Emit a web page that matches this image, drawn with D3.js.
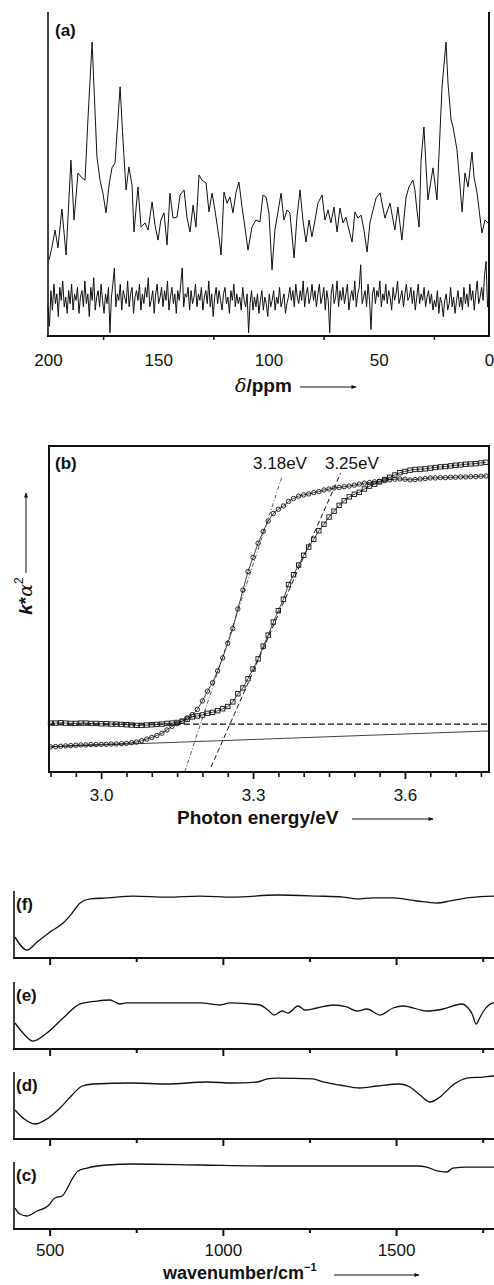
<!DOCTYPE html>
<html>
<head>
<meta charset="utf-8">
<script src="https://cdn.jsdelivr.net/npm/d3@7"></script>
<style>
  body { margin: 0; background: #fff; }
  text { font-family: "Liberation Sans", Arial, sans-serif; fill: #111; }
</style>
</head>
<body>
<svg id="fig" width="494" height="1285"></svg>
<script>
// ---------- (a) 13C NMR ----------
const nmrTicks = [200, 150, 100, 50, 0];
const nmrMinorTicks = [175, 125, 75, 25];
const nmrPpm = [199.5,198.2,196.8,195.5,193.7,191.8,189.6,188.2,186.4,184.6,183.2,181.9,180.0,178.7,177.8,176.4,175.1,173.7,172.3,171.0,
  169.6,168.3,167.3,166.0,164.6,163.3,161.9,161.0,159.2,157.8,156.0,154.6,152.8,151.5,150.1,148.8,147.4,146.0,144.7,143.3,
  141.5,140.1,138.3,137.0,135.6,134.2,132.9,131.5,130.2,128.3,127.0,125.6,124.3,122.4,121.5,120.2,118.8,117.5,116.1,114.7,
  113.4,112.0,110.7,109.3,107.5,105.7,103.9,102.5,101.1,99.8,98.4,97.1,95.7,94.3,93.0,91.6,90.3,88.4,87.1,85.7,
  84.4,83.0,81.6,80.3,78.9,77.6,75.7,74.4,73.0,71.7,70.3,68.9,67.6,66.2,64.9,63.5,62.1,60.8,59.4,58.0,
  56.7,55.3,54.0,52.6,51.2,49.4,47.2,44.9,42.7,41.3,39.5,37.6,36.3,34.5,33.6,32.7,31.7,30.8,29.5,28.6,
  27.7,25.4,23.6,21.3,19.5,18.6,17.2,16.3,14.5,12.2,10.9,9.5,7.7,6.8,5.4,4.1,3.2,1.8,0.5];
const nmrSample = [23.5,27.5,32.7,27.2,39.2,25.0,54.3,35.8,50.3,48.8,48.1,66.7,90.7,69.8,55.2,48.1,44.1,38.0,46.6,51.9,
  53.4,66.7,76.9,60.5,45.1,52.2,46.6,32.1,46.0,33.6,34.9,32.7,41.4,34.3,29.6,35.8,38.0,28.1,44.1,36.4,
  36.7,43.5,45.1,36.7,32.1,40.4,33.6,49.7,48.1,47.2,38.3,44.1,38.9,30.2,25.0,44.4,41.0,42.9,38.0,44.4,
  47.5,39.8,33.6,26.5,33.6,35.8,35.2,43.5,42.9,38.0,20.4,32.7,38.3,44.1,35.8,38.9,38.0,24.1,36.7,45.1,
  35.8,29.0,35.8,30.6,35.8,41.0,43.5,35.8,38.9,34.9,39.8,32.1,39.5,34.9,36.7,32.7,29.0,38.3,36.4,37.3,
  32.7,25.9,34.9,38.9,42.6,44.1,36.4,41.0,32.7,39.8,29.6,42.9,46.0,48.1,45.1,38.9,33.6,54.3,64.5,52.8,
  42.0,51.9,42.0,76.9,90.7,78.1,66.7,64.5,57.4,38.3,50.3,46.0,56.8,49.1,44.1,36.7,31.8,35.8,34.9];
// reference (lower) trace, equally spaced from 200 to 0 ppm
const nmrBlank = [
  9,3,14,8,16,10,13,6,15,11,17,9,12,7,14,10,16,8,13,11,
  15,7,12,14,9,17,10,13,6,15,11,18,8,12,14,9,16,11,7,13,
  10,15,1,12,16,21,9,13,11,16,8,14,12,10,17,9,13,15,7,12,
  14,11,16,8,13,10,15,12,18,9,11,14,7,13,16,10,12,15,9,14,
  11,17,8,12,15,10,13,7,14,11,16,21,9,13,12,15,8,14,10,12,
  16,9,13,11,15,8,12,14,10,17,9,13,6,12,15,10,14,11,8,13,
  15,10,12,7,14,11,16,9,13,10,12,8,15,11,9,13,1,10,14,8,
  12,9,13,7,11,14,8,12,10,6,13,9,11,14,8,12,10,15,9,11,
  13,7,10,12,15,11,14,9,16,12,10,14,11,17,9,13,15,10,12,16,
  11,14,9,13,16,10,12,15,8,14,11,1,13,16,10,12,17,9,14,11,
  15,10,13,16,8,12,14,11,17,9,13,15,22,10,12,14,9,16,11,2,
  13,15,10,14,12,17,9,13,11,16,10,14,12,8,15,11,13,17,10,12,
  14,9,13,16,11,12,15,10,14,8,12,16,10,13,11,15,9,12,14,10,
  13,8,11,9,14,7,12,10,6,11,13,8,10,15,9,12,7,11,14,9,
  12,8,15,10,13,9,16,11,14,8,13,17,10,12,15,11,19,23,9,14];

// ---------- (b) Tauc plot ----------
const energy = [2.90,2.91,2.92,2.93,2.94,2.95,2.96,2.97,2.98,2.99,3.00,3.01,3.02,3.03,3.04,3.05,3.06,3.07,3.08,3.09,
  3.10,3.11,3.12,3.13,3.14,3.15,3.16,3.17,3.18,3.19,3.20,3.21,3.22,3.23,3.24,3.25,3.26,3.27,3.28,3.29,
  3.30,3.31,3.32,3.33,3.34,3.35,3.36,3.37,3.38,3.39,3.40,3.41,3.42,3.43,3.44,3.45,3.46,3.47,3.48,3.49,
  3.50,3.51,3.52,3.53,3.54,3.55,3.56,3.57,3.58,3.59,3.60,3.61,3.62,3.63,3.64,3.65,3.66,3.67,3.68,3.69,
  3.70,3.71,3.72,3.73,3.74,3.75,3.76];
const tauCircles = [7.7,7.8,7.9,8.0,8.1,8.2,8.3,8.3,8.4,8.4,8.5,8.5,8.6,8.6,8.7,8.8,9.0,9.2,9.6,10.1,
  10.6,11.2,11.9,12.9,14.0,14.8,15.6,16.6,17.6,19.2,21.8,24.8,27.4,31.0,35.0,39.5,44.0,50.0,55.8,61.5,
  65.8,70.2,73.8,77.0,79.3,80.6,81.6,83.0,83.9,84.6,85.0,85.3,85.7,86.0,86.5,86.8,87.1,87.3,87.5,87.7,
  88.0,88.3,88.6,88.8,89.0,89.2,89.4,89.6,89.8,89.9,89.8,89.6,89.7,89.9,90.0,90.2,90.2,90.3,90.3,90.4,
  90.4,90.5,90.5,90.6,90.6,90.7,90.8];
const tauSquares = [15.0,15.0,15.1,15.0,14.9,14.9,15.0,15.0,14.9,14.9,14.8,14.8,14.7,14.7,14.6,14.5,14.4,14.3,14.3,14.4,
  14.5,14.6,14.7,14.9,15.0,15.2,15.6,16.2,16.9,17.2,17.5,18.0,18.3,18.8,19.4,20.1,21.5,24.0,25.8,28.6,
  31.6,34.7,38.6,42.0,46.0,49.5,53.0,57.5,60.5,63.5,66.5,69.0,71.4,74.0,76.0,78.2,80.0,81.8,83.2,84.4,
  85.2,85.8,86.8,87.7,88.3,89.0,89.7,90.4,91.1,91.8,92.2,92.6,92.8,92.9,93.0,93.2,93.4,93.6,93.7,93.9,
  94.1,94.2,94.4,94.5,94.6,94.8,95.0];
const baseCirclesE = [2.897, 3.766], baseCirclesV = [7.7, 12.6];
const baseSquaresE = [2.897, 3.766], baseSquaresV = [14.7, 14.7];
const fitCirclesE = [3.165, 3.357], fitCirclesV = [0, 90.5];
const fitSquaresE = [3.217, 3.473], fitSquaresV = [1.5, 91.7];
const gapLabels = ["3.18eV", "3.25eV"];
const gapLabelE = [3.300, 3.442];
const uvTicks = [3.0, 3.3, 3.6];
const uvMinorTicks = [2.9, 2.95, 3.05, 3.1, 3.15, 3.2, 3.25, 3.35, 3.4, 3.45, 3.5, 3.55, 3.65, 3.7, 3.75];

// ---------- (c)-(f) IR ----------
const irTicks = [500, 1000, 1500];
const irMinorTicks = [750, 1250, 1750];
const irNames = ["(f)", "(e)", "(d)", "(c)"];
const irF_wn = [400,435,464,501,539,565,588,617,666,741,839,934,1029,1156,1272,1347,1387,1433,1491,1560,1618,1656,1705,1780,1800];
const irF = [31.3,11.9,23.9,38.8,52.2,67.2,82.1,88.1,89.6,92.5,91.0,92.5,91.0,94.0,92.5,91.0,88.1,89.6,89.6,85.1,82.1,85.1,89.6,92.5,92.5];
const irE_wn = [400,423,452,492,539,588,637,674,689,703,723,839,934,992,1021,1107,1130,1148,1171,1188,
  1217,1237,1272,1318,1358,1387,1416,1454,1491,1520,1589,1636,1690,1708,1720,1731,1742,1751,1780,1800];
const irE = [38.8,23.9,11.9,23.9,46.3,67.2,71.6,73.1,70.1,67.2,68.7,68.7,68.7,65.7,68.7,65.7,58.2,50.7,56.7,53.7,
  64.2,58.2,61.2,65.7,62.7,56.7,59.7,50.7,61.2,64.2,56.7,59.7,67.2,61.2,52.0,37.3,47.0,55.2,68.7,70.0];
const irD_wn = [400,423,458,492,530,565,594,625,741,839,954,1029,1099,1128,1156,1260,1289,1338,1396,1445,
  1511,1540,1569,1598,1627,1664,1705,1751,1780,1800];
const irD = [43.3,31.3,22.4,29.9,46.3,65.7,79.1,82.1,83.6,82.1,85.1,83.6,85.1,89.6,91.0,89.6,85.1,80.6,76.1,79.1,
  82.1,77.6,65.7,55.2,62.7,80.6,91.0,92.5,94.0,94.0];
const irC_wn = [400,414,435,464,495,515,536,550,565,582,608,666,741,934,1127,1318,1416,1560,1589,1618,1636,1647,1664,1705,1780,1800];
const irC = [31.3,22.4,19.4,26.9,34.3,46.3,49.3,59.7,74.6,86.6,91.0,95.5,97.0,95.5,94.0,94.0,94.0,94.0,92.5,86.6,85.5,85.1,91.0,92.5,92.5,92.5];

const svg = d3.select("#fig");

// arrow head for the axis titles
svg.append("defs").append("marker")
    .attr("id", "arr")
    .attr("viewBox", "0 0 10 10")
    .attr("refX", 9).attr("refY", 5)
    .attr("markerWidth", 7).attr("markerHeight", 5)
    .attr("orient", "auto")
  .append("path")
    .attr("d", "M0,1 L10,5 L0,9 Z")
    .attr("fill", "#111");

function arrow(x1, y1, x2, y2) {
  svg.append("line")
    .attr("x1", x1).attr("y1", y1).attr("x2", x2).attr("y2", y2)
    .attr("stroke", "#111").attr("stroke-width", 1)
    .attr("marker-end", "url(#arr)");
}

function styleAxis(g, w) {
  g.select(".domain").remove();
  g.selectAll(".tick line").attr("stroke", "#111").attr("stroke-width", w);
  g.selectAll(".tick text").attr("font-size", 17).attr("fill", "#111")
    .attr("font-family", "'Liberation Sans', Arial, sans-serif");
}

// ================= panel (a) =================
const xA = d3.scaleLinear().domain([200, 0]).range([48, 489]);
const yA = d3.scaleLinear().domain([0, 100]).range([336, 12]);

const noiseX = d3.scaleLinear().domain([0, nmrBlank.length - 1]).range([200, 0]);
svg.append("path")
  .datum(nmrBlank.map((v, i) => [noiseX(i), v]))
  .attr("fill", "none").attr("stroke", "#111").attr("stroke-width", 1)
  .attr("d", d3.line().x(d => xA(d[0])).y(d => yA(d[1])));

svg.append("path")
  .datum(d3.zip(nmrPpm, nmrSample))
  .attr("fill", "none").attr("stroke", "#111").attr("stroke-width", 1)
  .attr("d", d3.line().x(d => xA(d[0])).y(d => yA(d[1])));

const axA = svg.append("g").attr("transform", "translate(0,336)")
  .call(d3.axisBottom(xA).tickValues(nmrTicks).tickSize(0).tickPadding(18).tickFormat(d3.format("d")));
styleAxis(axA, 1.5);
const axAm = svg.append("g").attr("transform", "translate(0,336)")
  .call(d3.axisBottom(xA).tickValues(nmrMinorTicks).tickSize(4).tickFormat(""));
styleAxis(axAm, 1.5);

svg.append("line").attr("x1", 48).attr("x2", 48).attr("y1", 12).attr("y2", 337)
  .attr("stroke", "#111").attr("stroke-width", 1.6);
svg.append("line").attr("x1", 489).attr("x2", 489).attr("y1", 12).attr("y2", 337)
  .attr("stroke", "#111").attr("stroke-width", 2);
svg.append("line").attr("x1", 47).attr("x2", 490).attr("y1", 336).attr("y2", 336)
  .attr("stroke", "#111").attr("stroke-width", 2.2);

svg.append("text").attr("x", 55).attr("y", 36)
  .attr("font-size", 17).attr("font-weight", "bold").text("(a)");

const tA = svg.append("text").attr("x", 235).attr("y", 392).attr("font-size", 19);
tA.append("tspan").attr("font-family", "'DejaVu Serif', serif").attr("font-style", "italic").text("δ");
tA.append("tspan").attr("font-weight", "bold").text("/ppm");
arrow(300, 387, 356, 387);

// ================= panel (b) =================
const xB = d3.scaleLinear().domain([2.897, 3.766]).range([49, 489]);
const yB = d3.scaleLinear().domain([0, 100]).range([772, 446]);
const lineB = d3.line().x(d => xB(d[0])).y(d => yB(d[1]));

svg.append("path").datum(d3.zip(baseCirclesE, baseCirclesV))
  .attr("fill", "none").attr("stroke", "#111").attr("stroke-width", 0.8).attr("d", lineB);
svg.append("path").datum(d3.zip(baseSquaresE, baseSquaresV))
  .attr("fill", "none").attr("stroke", "#111").attr("stroke-width", 1.3)
  .attr("stroke-dasharray", "6,3").attr("d", lineB);
svg.append("path").datum(d3.zip(fitCirclesE, fitCirclesV))
  .attr("fill", "none").attr("stroke", "#111").attr("stroke-width", 0.7)
  .attr("stroke-dasharray", "4,2,1,2").attr("d", lineB);
svg.append("path").datum(d3.zip(fitSquaresE, fitSquaresV))
  .attr("fill", "none").attr("stroke", "#111").attr("stroke-width", 1)
  .attr("stroke-dasharray", "5,3").attr("d", lineB);

const circPts = d3.zip(energy, tauCircles);
const sqPts = d3.zip(energy, tauSquares);
svg.append("path").datum(circPts)
  .attr("fill", "none").attr("stroke", "#111").attr("stroke-width", 0.8).attr("d", lineB);
svg.append("path").datum(sqPts)
  .attr("fill", "none").attr("stroke", "#111").attr("stroke-width", 0.8).attr("d", lineB);

svg.append("g").selectAll("circle").data(circPts).enter().append("circle")
  .attr("cx", d => xB(d[0])).attr("cy", d => yB(d[1])).attr("r", 2.2)
  .attr("fill", "none").attr("stroke", "#111").attr("stroke-width", 0.9);
svg.append("g").selectAll("rect").data(sqPts).enter().append("rect")
  .attr("x", d => xB(d[0]) - 2.2).attr("y", d => yB(d[1]) - 2.2)
  .attr("width", 4.4).attr("height", 4.4)
  .attr("fill", "none").attr("stroke", "#111").attr("stroke-width", 0.9);

svg.append("g").selectAll("text").data(gapLabels).enter().append("text")
  .attr("x", (d, i) => xB(gapLabelE[i])).attr("y", 469)
  .attr("font-size", 17).text(d => d);

svg.append("rect").attr("x", 49).attr("y", 446).attr("width", 440).attr("height", 326)
  .attr("fill", "none").attr("stroke", "#111").attr("stroke-width", 2);

const axB = svg.append("g").attr("transform", "translate(0,773)")
  .call(d3.axisBottom(xB).tickValues(uvTicks).tickSize(6).tickPadding(10).tickFormat(d3.format(".1f")));
styleAxis(axB, 1.8);
const axBm = svg.append("g").attr("transform", "translate(0,773)")
  .call(d3.axisBottom(xB).tickValues(uvMinorTicks).tickSize(4).tickFormat(""));
styleAxis(axBm, 1.6);

svg.append("text").attr("x", 55).attr("y", 469)
  .attr("font-size", 17).attr("font-weight", "bold").text("(b)");

svg.append("text").attr("x", 177).attr("y", 824)
  .attr("font-size", 19).attr("font-weight", "bold").text("Photon energy/eV");
arrow(352, 819, 433, 819);

const tY = svg.append("text")
  .attr("transform", "translate(32,596) rotate(-90)")
  .attr("text-anchor", "middle").attr("font-size", 19);
tY.append("tspan").attr("font-weight", "bold").attr("font-style", "italic").text("k");
tY.append("tspan").attr("font-weight", "bold").text("*");
tY.append("tspan").attr("font-family", "'DejaVu Serif', serif").attr("font-style", "italic").text("α");
tY.append("tspan").attr("font-size", 12).attr("dy", -9).text("2");
arrow(26, 573, 26, 493);

// ================= panels (c)-(f) =================
const xIR = d3.scaleLinear().domain([400, 1800]).range([15, 500]);
const irTops = [891, 982, 1072, 1162];
const irData = [d3.zip(irF_wn, irF), d3.zip(irE_wn, irE), d3.zip(irD_wn, irD), d3.zip(irC_wn, irC)];
const irH = 67;

irData.forEach((pts, k) => {
  const top = irTops[k];
  const yIR = d3.scaleLinear().domain([0, 100]).range([top + irH, top]);
  svg.append("path").datum(pts)
    .attr("fill", "none").attr("stroke", "#111").attr("stroke-width", 1.3)
    .attr("d", d3.line().curve(d3.curveMonotoneX).x(d => xIR(d[0])).y(d => yIR(d[1])));

  const ax = svg.append("g").attr("transform", `translate(0,${top + irH + 1})`)
    .call(d3.axisBottom(xIR).tickValues(irTicks).tickSize(6).tickPadding(8)
      .tickFormat(k === 3 ? d3.format("d") : ""));
  styleAxis(ax, 2);
  const axm = svg.append("g").attr("transform", `translate(0,${top + irH + 1})`)
    .call(d3.axisBottom(xIR).tickValues(irMinorTicks).tickSize(3).tickFormat(""));
  styleAxis(axm, 2);

  svg.append("line").attr("x1", 14).attr("x2", 14).attr("y1", top).attr("y2", top + irH + 1)
    .attr("stroke", "#111").attr("stroke-width", 1.6);
  svg.append("line").attr("x1", 13).attr("x2", 494).attr("y1", top + irH).attr("y2", top + irH)
    .attr("stroke", "#111").attr("stroke-width", 2.2);
  svg.append("text").attr("x", 16).attr("y", top + 19)
    .attr("font-size", 17).attr("font-weight", "bold").text(irNames[k]);
});

const tIR = svg.append("text").attr("x", 163).attr("y", 1279).attr("font-size", 18).attr("font-weight", "bold");
tIR.append("tspan").text("wavenumber/cm");
tIR.append("tspan").attr("font-size", 11).attr("dy", -8).text("−1");
arrow(334, 1275, 419, 1275);
</script>
</body>
</html>
